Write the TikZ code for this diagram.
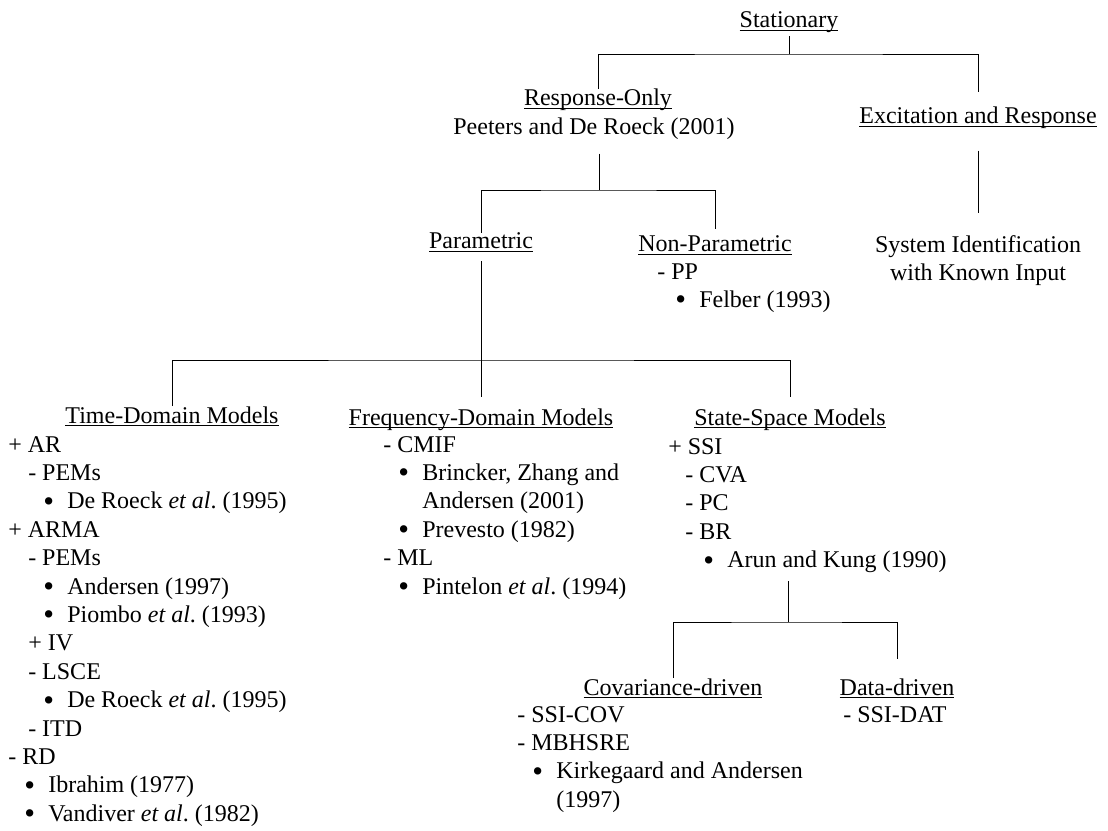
\documentclass[tikz,border=0pt]{standalone}
\usepackage{fontspec}
\setmainfont{Liberation Serif}
\newcommand{\bodyfont}{\fontsize{18pt}{21.3pt}\selectfont}
\newcommand{\ulin}[1]{\underline{\smash{#1}}\vphantom{#1}}
\newcommand{\bul}[1]{\hspace*{#1}\makebox[18pt][l]{\smash{\raisebox{-1.8pt}{\fontsize{23pt}{0pt}\selectfont\textbullet}}}}
\newcommand{\etal}{\textit{et al}.\ }

\begin{document}
\begin{tikzpicture}[x=0.75pt, y=-0.75pt,
  head/.style={inner sep=0pt, anchor=base, font=\bodyfont},
  list/.style={inner sep=0pt, anchor=north west, align=left, font=\bodyfont},
  tree/.style={line width=0.6pt}]
  \useasboundingbox (0,0) rectangle (1108,831);

  % headings
  \node[head] (stat)    at (789,28)  {\ulin{Stationary}};
  \node[head] (resp)    at (598,106) {\ulin{Response-Only}};
  \node[head] (respref) at (594,135) {Peeters and De Roeck (2001)};
  \node[head] (exc)     at (978,124) {\ulin{Excitation and Response}};
  \node[head] (param)   at (481,249) {\ulin{Parametric}};
  \node[head] (nonpar)  at (715,252) {\ulin{Non-Parametric}};
  \node[list, anchor=north, align=center] (sysid) at (978,232)
    {\strut System Identification\\with Known Input};
  \node[head] (time)    at (172,423) {\ulin{Time-Domain Models}};
  \node[head] (freq)    at (481,425) {\ulin{Frequency-Domain Models}};
  \node[head] (state)   at (790,425) {\ulin{State-Space Models}};
  \node[head] (cov)     at (673,695) {\ulin{Covariance-driven}};
  \node[head] (data)    at (897,695) {\ulin{Data-driven}};

  % lists
  \node[list] (nplist) at (657,259)
    {\strut- PP\\ \bul{13.5pt}Felber (1993)};
  \node[list] (tdlist) at (8,432)
    {\strut+ AR\\
     \hspace*{15pt}- PEMs\\
     \bul{26.25pt}De Roeck \etal(1995)\\
     + ARMA\\
     \hspace*{15pt}- PEMs\\
     \bul{26.25pt}Andersen (1997)\\
     \bul{26.25pt}Piombo \etal(1993)\\
     \hspace*{15pt}+ IV\\
     \hspace*{15pt}- LSCE\\
     \bul{26.25pt}De Roeck \etal(1995)\\
     \hspace*{15pt}- ITD\\
     - RD\\
     \bul{12pt}Ibrahim (1977)\\
     \bul{12pt}Vandiver \etal(1982)};
  \node[list] (fdlist) at (383,432)
    {\strut- CMIF\\
     \bul{11.25pt}Brincker, Zhang and\\
     \hspace*{29.25pt}Andersen (2001)\\
     \bul{11.25pt}Prevesto (1982)\\
     - ML\\
     \bul{11.25pt}Pintelon \etal(1994)};
  \node[list] (sslist) at (668,434)
    {\strut+ SSI\\
     \hspace*{12.75pt}- CVA\\
     \hspace*{12.75pt}- PC\\
     \hspace*{12.75pt}- BR\\
     \bul{26.25pt}Arun and Kung (1990)};
  \node[list] (covlist) at (517,702)
    {\strut- SSI-COV\\
     - MBHSRE\\
     \bul{11.25pt}Kirkegaard and Andersen\\
     \hspace*{29.25pt}(1997)};
  \node[list] (datalist) at (843,702) {\strut- SSI-DAT};

  % junctions
  \coordinate (j0) at (789,54);
  \coordinate (j1) at (599,190);
  \coordinate (j2) at (481,360);
  \coordinate (j3) at (788,622);

  % tree lines
  \draw[tree, shorten <=2pt] (stat) -- (j0);
  \draw[tree, shorten >=11pt] (resp.north) |- (j0) -| (exc.north);
  \draw[tree, shorten <=10pt] (respref.south -| j1) -- (j1);
  \draw[tree, shorten >=5pt] (param.north) |- (j1) -| (nonpar.north);
  \draw[tree, shorten <=16pt, shorten >=14pt] (exc.south) -- (sysid.north);
  \draw[tree, shorten <=7pt, shorten >=8pt] (param.south) -- (freq.north);
  \draw[tree, shorten >=8pt] (time.north) |- (j2) -| (state.north);
  \draw[tree, shorten <=6pt] (sslist.south -| j3) -- (j3);
  \draw[tree, shorten >=14pt] (cov.north) |- (j3) -| (data.north);
\end{tikzpicture}
\end{document}
